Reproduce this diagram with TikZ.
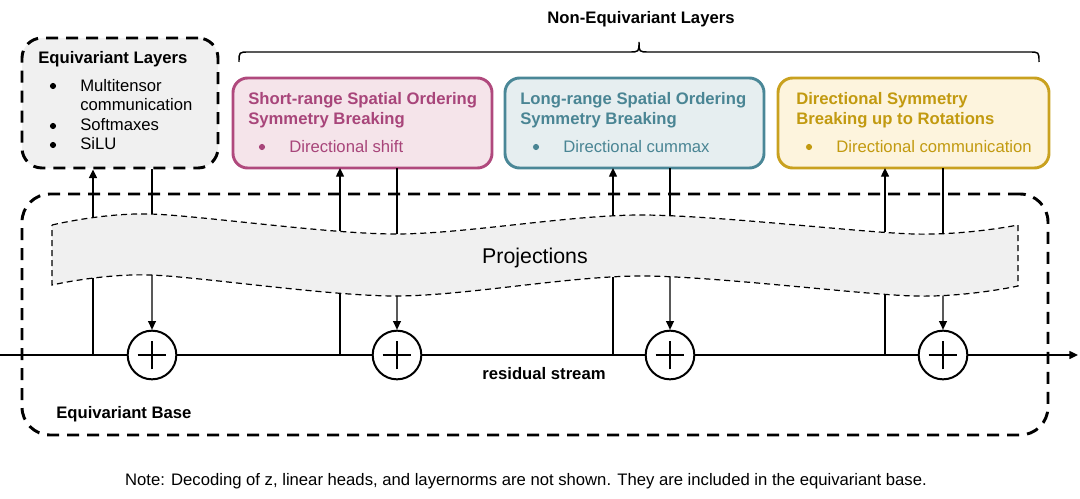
\documentclass[tikz,border=0pt]{standalone}
\usepackage{fontspec}
\setmainfont{Liberation Sans}
\usetikzlibrary{arrows.meta,intersections,calc}
\definecolor{magline}{HTML}{B0497D}
\definecolor{magtext}{HTML}{A8457A}
\definecolor{magfill}{HTML}{F5E4EA}
\definecolor{tealline}{HTML}{4A8797}
\definecolor{tealtext}{HTML}{4A8594}
\definecolor{tealfill}{HTML}{E6EEF0}
\definecolor{goldline}{HTML}{C9A11F}
\definecolor{goldtext}{HTML}{C29A10}
\definecolor{goldfill}{HTML}{FDF4DD}
\definecolor{grayfill}{HTML}{F0F0F0}
\begin{document}
\begin{tikzpicture}[x=0.75pt,y=-0.75pt,
  font=\fontsize{12.5}{15}\selectfont,
  bigdash/.style={draw=black, line width=2.2pt, dash pattern=on 9pt off 6pt},
  colbox/.style={rounded corners=11pt, line width=2.2pt, inner sep=0pt, outer sep=0pt,
     minimum height=67.5pt},
  txt/.style={anchor=base west, inner sep=0pt},
  bul/.style={circle, inner sep=0pt, minimum size=4.6pt},
  conn/.style={line width=1pt},
  tip/.style={-{Triangle[length=6.5pt,width=6pt]}},
  plusnode/.style={circle, draw, fill=white, line width=1.5pt, minimum size=36.5pt, inner sep=0pt,
     path picture={\draw[line width=0.9pt]
       ([xshift=-10.8pt]path picture bounding box.center) -- ([xshift=10.8pt]path picture bounding box.center)
       ([yshift=-10.8pt]path picture bounding box.center) -- ([yshift=10.8pt]path picture bounding box.center);}},
]
\useasboundingbox (0,0) rectangle (1080,499);

% Equivariant base
\node[bigdash, rounded corners=21pt, minimum width=769.5pt, minimum height=180.75pt, inner sep=0pt] (base) at (535,314.5) {};
\node[txt, font=\fontsize{12.5}{15}\selectfont\bfseries] (baselbl) at (56,418) {Equivariant Base};

% Projections band
\path[fill=grayfill, draw=black, line width=0.9pt, dash pattern=on 4.5pt off 3pt]
  (52,225) -- plot[smooth] coordinates {(52,225) (150,214) (395,234) (641,215) (914,234) (1018,225)}
  -- (1018,286) -- plot[smooth] coordinates {(1018,286) (914,296) (641,276) (395,296) (150,275) (52,285)} -- cycle;
\path[name path=ptop] plot[smooth] coordinates {(52,225) (150,214) (395,234) (641,215) (914,234) (1018,225)};
\path[name path=pbot] plot[smooth] coordinates {(1018,286) (914,296) (641,276) (395,296) (150,275) (52,285)};
\node[inner sep=0pt, anchor=base, font=\fontsize{16}{19}\selectfont] (proj) at (535,263) {Projections};

\foreach \x/\n in {93/a1,152/b1,340/a2,397/b2,613/a3,670/b3,885/a4,943/b4}{
  \path[name path=vv] (\x,0) -- (\x,499);
  \path[name intersections={of=vv and ptop, by={t\n}}];
  \path[name intersections={of=vv and pbot, by={u\n}}];
}

% Equivariant Layers box
\node[bigdash, fill=grayfill, rounded corners=15pt, minimum width=147pt, minimum height=97.5pt, inner sep=0pt] (eqL) at (120,103) {};
\node[txt, font=\fontsize{12.5}{15}\selectfont\bfseries] (eqT) at (38,64) {Equivariant Layers};
\node[bul, fill=black] (eqB1) at (53,86) {};
\node[txt] (eqI1) at (80,92) {Multitensor};
\node[txt] (eqI1b) at (80,111) {communication};
\node[bul, fill=black] (eqB2) at (53,126) {};
\node[txt] (eqI2) at (80,131) {Softmaxes};
\node[bul, fill=black] (eqB3) at (53,145) {};
\node[txt] (eqI3) at (80,150) {SiLU};

% Non-equivariant boxes
\node[colbox, draw=magline, fill=magfill, minimum width=194.25pt] (sr) at (362.5,123) {};
\node[txt, text=magtext, font=\fontsize{12.5}{15}\selectfont\bfseries] (srT1) at (248,105) {Short-range Spatial Ordering};
\node[txt, text=magtext, font=\fontsize{12.5}{15}\selectfont\bfseries] (srT2) at (248,125) {Symmetry Breaking};
\node[bul, fill=magtext] (srB) at (262,147) {};
\node[txt, text=magtext] (srI) at (289,152) {Directional shift};

\node[colbox, draw=tealline, fill=tealfill, minimum width=194.25pt] (lr) at (634.5,123) {};
\node[txt, text=tealtext, font=\fontsize{12.5}{15}\selectfont\bfseries] (lrT1) at (520,105) {Long-range Spatial Ordering};
\node[txt, text=tealtext, font=\fontsize{12.5}{15}\selectfont\bfseries] (lrT2) at (520,125) {Symmetry Breaking};
\node[bul, fill=tealtext] (lrB) at (536,147) {};
\node[txt, text=tealtext] (lrI) at (563,152) {Directional cummax};

\node[colbox, draw=goldline, fill=goldfill, minimum width=203.25pt] (dr) at (913.5,123) {};
\node[txt, text=goldtext, font=\fontsize{12.5}{15}\selectfont\bfseries] (drT1) at (796,105) {Directional Symmetry};
\node[txt, text=goldtext, font=\fontsize{12.5}{15}\selectfont\bfseries] (drT2) at (796,125) {Breaking up to Rotations};
\node[bul, fill=goldtext] (drB) at (809,147) {};
\node[txt, text=goldtext] (drI) at (836,152) {Directional communication};

% Brace
\coordinate (brL) at (239,62);
\coordinate (brM) at (639,42);
\coordinate (brR) at (1039,62);
\draw[line width=1.1pt] (brL) .. controls ($(brL)+(0,-10)$) .. ($(brL)+(10,-10)$) -- ($(brM)+(-10,10)$)
   .. controls ($(brM)+(0,10)$) .. (brM) .. controls ($(brM)+(0,10)$) .. ($(brM)+(10,10)$)
   -- ($(brR)+(-10,-10)$) .. controls ($(brR)+(0,-10)$) .. (brR);
\node[anchor=base, inner sep=0pt, font=\fontsize{12.5}{15}\selectfont\bfseries] (nel) at (641,24) {Non-Equivariant Layers};

% Residual stream
\coordinate (rsL) at (0,355);
\coordinate (rsR) at (1078,355);
\draw[conn, tip] (rsL) -- (rsR);
\node[anchor=base, inner sep=0pt, font=\fontsize{12.5}{15}\selectfont\bfseries] (rslbl) at (544,379) {residual stream};

\node[plusnode] (p1) at (152,355) {};
\node[plusnode] (p2) at (397,355) {};
\node[plusnode] (p3) at (670,355) {};
\node[plusnode] (p4) at (943,355) {};

% Connectors
\draw[conn, tip] (ta1) -- (ta1 |- eqL.south);
\draw[conn] (eqL.south -| tb1) -- (tb1);
\draw[conn] (ua1 |- rsL) -- (ua1);
\draw[conn, tip] (ub1) -- (p1.north);

\draw[conn, tip] (ta2) -- (ta2 |- sr.south);
\draw[conn] (sr.south -| tb2) -- (tb2);
\draw[conn] (ua2 |- rsL) -- (ua2);
\draw[conn, tip] (ub2) -- (p2.north);

\draw[conn, tip] (ta3) -- (ta3 |- lr.south);
\draw[conn] (lr.south -| tb3) -- (tb3);
\draw[conn] (ua3 |- rsL) -- (ua3);
\draw[conn, tip] (ub3) -- (p3.north);

\draw[conn, tip] (ta4) -- (ta4 |- dr.south);
\draw[conn] (dr.south -| tb4) -- (tb4);
\draw[conn] (ua4 |- rsL) -- (ua4);
\draw[conn, tip] (ub4) -- (p4.north);

% Note
\node[anchor=base, inner sep=0pt] (note) at (526,485) {Note: Decoding of z, linear heads, and layernorms are not shown. They are included in the equivariant base.};
\end{tikzpicture}
\end{document}
